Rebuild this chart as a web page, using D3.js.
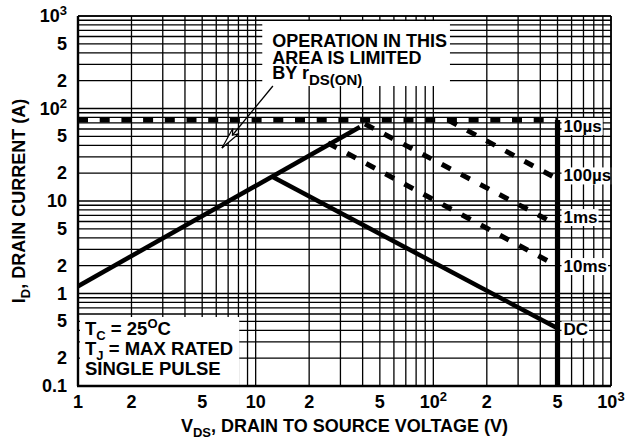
<!DOCTYPE html>
<html><head><meta charset="utf-8">
<script src="https://cdn.jsdelivr.net/npm/d3@7"></script>
<style>
html,body{margin:0;padding:0;background:#fff;}
svg text{font-family:"Liberation Sans",Arial,sans-serif;font-weight:bold;fill:#000;}
</style></head>
<body><svg id="c" width="631" height="448"></svg>
<script>
// ---- data ----
const xTicks = [1,2,5,10,20,50,100,200,500,1000];
const xTickLabels = ["1","2","5","10","2","5","10^2","2","5","10^3"];
const yTicks = [0.1,0.2,0.5,1,2,5,10,20,50,100,200,500,1000];
const yTickLabels = ["0.1","2","5","1","2","5","10","2","5","10^2","2","5","10^3"];
const xDecades = [1,10,100];
const yDecades = [0.1,1,10,100];
const gridMult = [1,2,3,4,5,6,7,8,9];

const rdsLimit   = [[1,1.2],[38.6,63]];
const dcSlope    = [[12.5,18.2],[500,0.42]];
const dcVertical = [[500,75],[500,0.1]];
const pulse10us  = [[1,75],[500,75]];
const pulse100us = [[121,75],[500,17.3]];
const pulse1ms   = [[41.2,68],[500,5.5]];
const pulse10ms  = [[25.5,42.4],[500,1.98]];

const curveLabels = ["10µs","100µs","1ms","10ms","DC"];
const curveLabelV = [500,500,500,500,500];
const curveLabelI = [64.7,18.9,6.7,1.98,0.41];

const noteLines = ["OPERATION IN THIS","AREA IS LIMITED","BY r_DS(ON)"];
const noteAnchor = [12.4, 462];
const arrowFrom = [12.5, 175];
const arrowTo = [6.46, 37.4];
const condLines = ["T_C = 25^OC","T_J = MAX RATED","SINGLE PULSE"];
const condAnchor = [1.095, 0.356];

// ---- chart ----
const svg = d3.select("#c");
const x = d3.scaleLog().domain([1,1000]).range([78,611]);
const y = d3.scaleLog().domain([0.1,1000]).range([386,16]);

const gridL = svg.append("g");
const bgL = svg.append("g");
const curveL = svg.append("g").attr("fill","none").attr("stroke","#000");
const textL = svg.append("g");

function tokens(str){
  const parts = [];
  let mode = "n", buf = "";
  for (let i=0;i<str.length;i++){
    const c = str[i];
    if (c==="^"||c==="_"){
      if (buf) parts.push([mode,buf]); buf=""; mode = c==="^"?"sup":"sub"; continue;
    }
    if (mode!=="n" && (c===" "||c===",")){ parts.push([mode,buf]); buf=""; mode="n"; }
    else if (mode==="sup" && c==="C"){ parts.push([mode,buf]); buf=""; mode="n"; }
    buf += c;
  }
  if (buf) parts.push([mode,buf]);
  return parts;
}
// rich multi-line text inside one <text> element
function rich(sel, lines, opt){
  const {size, supSize, supShift, subShift, spacing, x0} = opt;
  let cur = 0;
  (Array.isArray(lines)?lines:[lines]).forEach((ln,li)=>{
    tokens(ln).forEach(([m,t],pi)=>{
      const target = m==="sup"? -supShift : m==="sub"? subShift : 0;
      const ts = sel.append("tspan").text(t)
        .attr("font-size", m==="n"? size : supSize)
        .attr("dy", target-cur + (pi===0 && li>0 ? spacing[li] : 0));
      if (pi===0 && li>0) ts.attr("x", x0);
      cur = target;
    });
  });
}

// grid
const xGrid = [];
xDecades.forEach(d=>gridMult.forEach(k=>xGrid.push(k*d))); xGrid.push(1000);
const yGrid = [];
yDecades.forEach(d=>gridMult.forEach(k=>yGrid.push(k*d))); yGrid.push(1000);
gridL.selectAll(".vg").data(xGrid).join("line")
  .attr("x1",d=>x(d)).attr("x2",d=>x(d)).attr("y1",y(0.1)).attr("y2",y(1000))
  .attr("stroke","#000").attr("stroke-width",1.3);
gridL.selectAll(".hg").data(yGrid).join("line")
  .attr("x1",x(1)).attr("x2",x(1000)).attr("y1",d=>y(d)).attr("y2",d=>y(d))
  .attr("stroke","#000").attr("stroke-width",1.3);

// curves
const line = d3.line().x(d=>x(d[0])).y(d=>y(d[1]));
[pulse10us,pulse100us,pulse1ms,pulse10ms].forEach(s=>{
  curveL.append("path").attr("d",line(s)).attr("stroke-width",5).attr("stroke-dasharray","10,11.7");
});
[rdsLimit,dcSlope].forEach(s=>{
  curveL.append("path").attr("d",line(s)).attr("stroke-width",4.5);
});
curveL.append("path").attr("d",line(dcVertical)).attr("stroke-width",5.2);

// frame
textL.append("line").attr("x1",x(1)).attr("x2",x(1)).attr("y1",y(1000)).attr("y2",y(0.1)).attr("stroke","#000").attr("stroke-width",2.4);
textL.append("line").attr("x1",x(1)-1).attr("x2",x(1000)).attr("y1",y(0.1)).attr("y2",y(0.1)).attr("stroke","#000").attr("stroke-width",2.4);
textL.append("line").attr("x1",x(1)).attr("x2",x(1000)).attr("y1",y(1000)).attr("y2",y(1000)).attr("stroke","#000").attr("stroke-width",1.6);
textL.append("line").attr("x1",x(1000)).attr("x2",x(1000)).attr("y1",y(1000)).attr("y2",y(0.1)).attr("stroke","#000").attr("stroke-width",1.6);

// curve labels with white bg
curveLabels.forEach((t,i)=>{
  const tx = textL.append("text").attr("x",x(curveLabelV[i])+6).attr("y",y(curveLabelI[i])+6)
    .attr("font-size",17).text(t);
  const b = tx.node().getBBox();
  bgL.append("rect").attr("fill","#fff").attr("x",b.x-2).attr("y",b.y+1).attr("width",b.width+3).attr("height",b.height-2);
});

// note text (one text element)
{
  const nx = x(noteAnchor[0]);
  const nt = textL.append("text").attr("x",nx).attr("y",y(noteAnchor[1]));
  rich(nt, noteLines, {size:18, supSize:15, supShift:6, subShift:6, spacing:[0,16.5,15.5], x0:nx});
  const b = nt.node().getBBox();
  bgL.append("rect").attr("x",b.x-10).attr("y",b.y-10).attr("width",b.width+13).attr("height",b.height+8).attr("fill","#fff");
}
// conditions text (one text element)
{
  const cx = x(condAnchor[0]);
  const ct = textL.append("text").attr("x",cx).attr("y",y(condAnchor[1]));
  rich(ct, condLines, {size:18.5, supSize:13, supShift:7, subShift:5, spacing:[0,20,20], x0:cx});
  const b = ct.node().getBBox();
  bgL.append("rect").attr("x",x(1)+2).attr("y",b.y+1).attr("width",b.x+b.width-x(1)+4).attr("height",y(0.1)-b.y-1).attr("fill","#fff");
}

// arrow
{
  const x0=x(arrowFrom[0]), y0=y(arrowFrom[1]), x1=x(arrowTo[0]), y1=y(arrowTo[1]);
  textL.append("line").attr("x1",x0).attr("y1",y0).attr("x2",x1).attr("y2",y1).attr("stroke","#000").attr("stroke-width",1.3);
  const ang = Math.atan2(y0-y1,x0-x1);
  const L=22, W=4;
  const bx=x1+Math.cos(ang)*L, by=y1+Math.sin(ang)*L;
  const px=-Math.sin(ang)*W, py=Math.cos(ang)*W;
  const mx=x1+Math.cos(ang)*L*0.75, my=y1+Math.sin(ang)*L*0.75;
  textL.append("path").attr("d",`M${x1},${y1}L${bx+px},${by+py}L${mx},${my}L${bx-px},${by-py}Z`)
    .attr("fill","#fff").attr("stroke","#000").attr("stroke-width",1.2);
}

// axes tick labels
const tickOpt = {size:18, supSize:13, supShift:7, subShift:5, spacing:[0]};
xTicks.forEach((v,i)=>{
  const t = textL.append("text").attr("x",x(v)).attr("y",408).attr("text-anchor","middle");
  rich(t, xTickLabels[i], tickOpt);
});
yTicks.forEach((v,i)=>{
  const t = textL.append("text").attr("x",67).attr("y",y(v)+6).attr("text-anchor","end");
  rich(t, yTickLabels[i], tickOpt);
});
// axis titles
{
  const t = textL.append("text").attr("x",(x(1)+x(1000))/2).attr("y",432).attr("text-anchor","middle");
  rich(t, "V_DS, DRAIN TO SOURCE VOLTAGE (V)", tickOpt);
  const t2 = textL.append("text").attr("transform",`translate(25,${(y(0.1)+y(1000))/2}) rotate(-90)`).attr("text-anchor","middle");
  rich(t2, "I_D, DRAIN CURRENT (A)", tickOpt);
}
</script></body></html>
